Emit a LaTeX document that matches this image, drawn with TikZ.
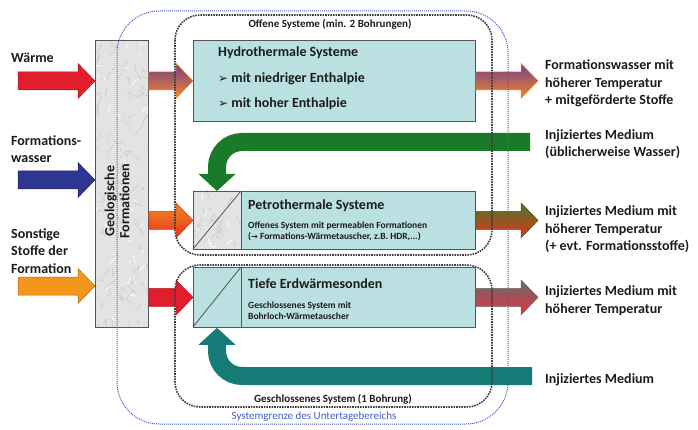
\documentclass[tikz,border=0pt]{standalone}
\usepackage{fontspec}
\setmainfont{Carlito}
\newfontfamily\symfont{DejaVu Sans}
\usetikzlibrary{arrows.meta,calc}

\definecolor{boxcyan}{RGB}{186,224,225}
\definecolor{boxline}{RGB}{85,85,85}
\definecolor{txt}{RGB}{28,28,28}
\definecolor{heatRed}{RGB}{226,30,45}
\definecolor{waterBlue}{RGB}{45,55,145}
\definecolor{stoffOrange}{RGB}{243,150,28}
\definecolor{injGreen}{RGB}{25,122,42}
\definecolor{injTeal}{RGB}{22,122,118}
\definecolor{hydPurple}{RGB}{112,62,140}
\definecolor{hydOrange}{RGB}{245,135,45}
\definecolor{petOrange}{RGB}{242,140,30}
\definecolor{petRed}{RGB}{228,52,32}
\definecolor{outGreen}{RGB}{70,120,40}
\definecolor{outGray}{RGB}{105,105,105}
\definecolor{limitBlue}{RGB}{70,95,200}

\tikzset{
  sysbox/.style={draw=boxline, line width=0.8pt, fill=boxcyan, anchor=north west, inner sep=0pt},
  geobox/.style={draw=boxline, line width=0.8pt, fill=gray!22, anchor=north west, inner sep=0pt},
  marble/.style={gray!45, line width=0.45pt},
  lbl/.style={font=\bfseries\fontsize{14}{17.5}\selectfont, text=txt, align=left, anchor=base west, inner sep=0pt},
  note/.style={font=\bfseries\fontsize{9.5}{11}\selectfont, text=txt, align=left, anchor=base west, inner sep=0pt},
  framelbl/.style={font=\bfseries\fontsize{11}{13}\selectfont, text=txt, anchor=base, inner sep=0pt},
  limitlbl/.style={font=\fontsize{11}{13}\selectfont, text=limitBlue, anchor=base, inner sep=0pt},
  frame/.style={draw=black!75, line width=1.6pt, densely dotted, rounded corners=25},
  limit/.style={draw=limitBlue, line width=1pt, densely dotted, rounded corners=42},
  uarrow/.style={draw=#1, line width=18pt, rounded corners=25,
    -{Triangle[length=17pt,width=36pt]}},
}

% block arrow: [style]{start}{end}, horizontal
\newcommand{\fatarrow}[3][]{%
  \path[#1] let \p1=#2, \p2=#3 in
    (\x1,\y1+9pt) -- (\x2-17pt,\y1+9pt) -- (\x2-17pt,\y1+17.5pt) -- (\x2,\y1)
    -- (\x2-17pt,\y1-17.5pt) -- (\x2-17pt,\y1-9pt) -- (\x1,\y1-9pt) -- cycle;}
\newcommand{\bul}{{\symfont\fontsize{12}{12}\selectfont ➢}}

\begin{document}
\begin{tikzpicture}[x=1pt,y=-1pt]
\useasboundingbox[fill=white] (0,0) rectangle (698,430);

\coordinate (inWaerme) at (18,81);
\coordinate (inWasser) at (18,180);
\coordinate (inStoffe) at (18,286);
\coordinate (outEnd) at (538,0);
\coordinate (injIn) at (530,142);
\coordinate (injTiefeIn) at (532,376);

% geologische Formationen
\node[geobox, minimum width=53, minimum height=287] (geo) at (95,40) {};
\begin{scope}
\clip (95,40) rectangle (148,327);
\pgfmathsetseed{12}
\foreach \k in {1,...,80}{
  \draw[marble] ({95+53*rnd},{40+287*rnd}) -- ++({7*rand},{9*rand}) -- ++({7*rand},{9*rand});
}
\foreach \k in {1,...,40}{
  \draw[white, line width=0.8pt] ({95+53*rnd},{40+287*rnd}) -- ++({6*rand},{8*rand});
}
\end{scope}
\draw[boxline, line width=0.8pt] (geo.north west) rectangle (geo.south east);
\node[rotate=90, font=\bfseries\fontsize{14}{15}\selectfont, text=txt, align=center] (geoText) at (117,201) {Geologische\\Formationen};

% Systeme
\node[sysbox, minimum width=282, minimum height=81] (hydro) at (193,40) {};
\node[sysbox, minimum width=282, minimum height=58] (petro) at (193,191) {};
\node[sysbox, minimum width=282, minimum height=60] (tiefe) at (193,267) {};

\begin{scope}
\clip (193,191) rectangle (241,249);
\fill[gray!22] (193,191) rectangle (241,249);
\pgfmathsetseed{5}
\foreach \k in {1,...,20}{
  \draw[marble] ({193+48*rnd},{191+58*rnd}) -- ++({7*rand},{9*rand}) -- ++({7*rand},{9*rand});
}
\foreach \k in {1,...,10}{
  \draw[white, line width=0.8pt] ({193+48*rnd},{191+58*rnd}) -- ++({6*rand},{8*rand});
}
\end{scope}
\draw[boxline, line width=0.8pt] (petro.north west) rectangle (petro.south east);
\draw[boxline, line width=0.8pt] (241,191) -- (241,249);
\draw[boxline, line width=0.8pt] (193,249) -- (241,191);
\draw[boxline, line width=0.8pt] (241,267) -- (241,327);
\draw[boxline, line width=0.8pt] (193,327) -- (241,267);

\node[lbl] (hydroTitle) at (218,57) {Hydrothermale Systeme};
\node[lbl] (hydroLow) at (218,83) {\bul\ mit niedriger Enthalpie};
\node[lbl] (hydroHigh) at (218,108) {\bul\ mit hoher Enthalpie};
\node[lbl] (petroTitle) at (248,210) {Petrothermale Systeme};
\node[note] (petroNote) at (248,240) {Offenes System mit permeablen Formationen\\({\symfont\fontsize{8}{8}\selectfont →} Formations-Wärmetauscher, z.B. HDR,...)};
\node[lbl] (tiefeTitle) at (248,288) {Tiefe Erdwärmesonden};
\node[note] (tiefeNote) at (248,319) {Geschlossenes System mit\\Bohrloch-Wärmetauscher};

% Zufluesse
\fatarrow[fill=heatRed, draw=heatRed!70!black, line width=0.5pt]{(inWaerme)}{(geo.west|-inWaerme)}
\fatarrow[fill=waterBlue, draw=waterBlue!70!black, line width=0.5pt]{(inWasser)}{(geo.west|-inWasser)}
\fatarrow[fill=stoffOrange, draw=stoffOrange!70!black, line width=0.5pt]{(inStoffe)}{(geo.west|-inStoffe)}

\fatarrow[top color=hydPurple, bottom color=hydOrange, draw=hydOrange, line width=0.5pt]{(geo.east|-hydro.west)}{(hydro.west)}
\fatarrow[top color=petOrange, bottom color=petRed, draw=petRed, line width=0.5pt]{(geo.east|-petro.west)}{(petro.west)}
\fatarrow[fill=heatRed, draw=heatRed!80!black, line width=0.5pt]{(geo.east|-tiefe.west)}{(tiefe.west)}

% Abfluesse
\fatarrow[top color=hydPurple, bottom color=hydOrange, draw=hydOrange, line width=0.5pt]{(hydro.east)}{(hydro.east-|outEnd)}
\fatarrow[top color=outGreen, bottom color=petRed, draw=outGreen!80!black, line width=0.5pt]{(petro.east)}{(petro.east-|outEnd)}
\fatarrow[top color=outGray, bottom color=heatRed!90!white, draw=outGray, line width=0.5pt]{(tiefe.east)}{(tiefe.east-|outEnd)}

% Injektion
\draw[uarrow=injGreen] (injIn) -| ([xshift=24pt]petro.north west);
\draw[uarrow=injTeal] (injTiefeIn) -| ([xshift=24pt]tiefe.south west);

% Systemgrenzen
\draw[limit] (117,11) rectangle (508,424);
\draw[frame] (175,15) rectangle (492,255);
\draw[frame] (175,265) rectangle (492,407);
\node[framelbl] (openLbl) at (330,28) {Offene Systeme (min. 2 Bohrungen)};
\node[framelbl] (closedLbl) at (333,402) {Geschlossenes System (1 Bohrung)};
\node[limitlbl] (limitLbl) at (314,419) {Systemgrenze des Untertagebereichs};

% Beschriftungen
\node[lbl] (waermeText) at (11,63) {Wärme};
\node[lbl] (wasserText) at (11,163) {Formations-\\wasser};
\node[lbl] (stoffeText) at (11,273) {Sonstige\\Stoffe der\\Formation};
\node[lbl] (outHydroText) at (545,105) {Formationswasser mit\\höherer Temperatur\\+ mitgeförderte Stoffe};
\node[lbl] (injText) at (545,157) {Injiziertes Medium\\(üblicherweise Wasser)};
\node[lbl] (outPetroText) at (545,251) {Injiziertes Medium mit\\höherer Temperatur\\(+ evt. Formationsstoffe)};
\node[lbl] (outTiefeText) at (545,313) {Injiziertes Medium mit\\höherer Temperatur};
\node[lbl] (injTiefeText) at (545,383) {Injiziertes Medium};
\end{tikzpicture}
\end{document}
